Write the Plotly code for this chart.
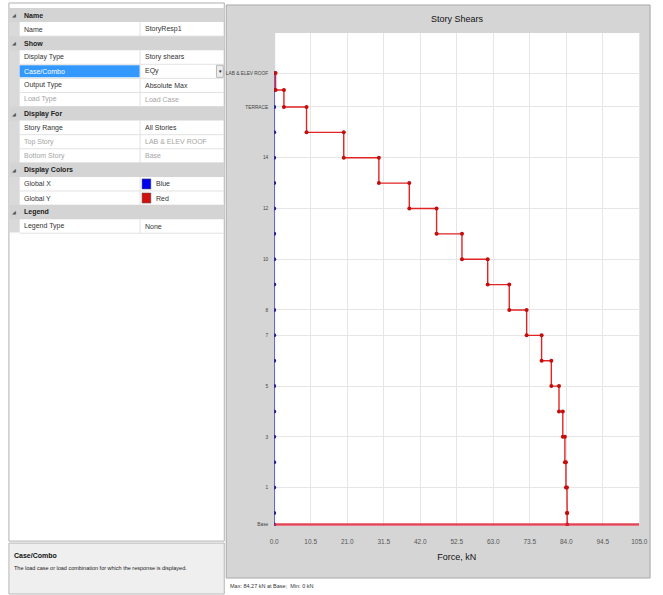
import plotly.graph_objects as go

# ---------------- data ----------------
story_names = ["Base", "PLINTH", "1", "2", "3", "4", "5", "6", "7", "8", "9", "10",
               "11", "12", "13", "14", "15", "TERRACE", "LMR", "LAB & ELEV ROOF"]
story_elev = [0, 1.35, 4.35, 7.35, 10.35, 13.35, 16.35, 19.35, 22.35, 25.35, 28.35,
              31.35, 34.35, 37.35, 40.35, 43.35, 46.35, 49.35, 51.35, 53.35]
labeled_stories = ["Base", "1", "3", "5", "7", "8", "10", "12", "14", "TERRACE", "LAB & ELEV ROOF"]
# shear of the story lying below each level (levels 1..19, bottom to top), kN
shear_x = [0] * 19
shear_y = [84.27, 84.2, 83.9, 83.6, 83.0, 81.9, 79.7, 76.9, 72.6, 67.6, 61.4,
           54.0, 46.7, 38.85, 30.1, 20.0, 9.3, 2.8, 0.4]
x_ticks = [0, 10.5, 21.0, 31.5, 42.0, 52.5, 63.0, 73.5, 84.0, 94.5, 105.0]
x_tick_text = ["0.0", "10.5", "21.0", "31.5", "42.0", "52.5", "63.0", "73.5", "84.0", "94.5", "105.0"]

grid_rows = [
    ("cat", "Name", ""),
    ("row", "Name", "StoryResp1"),
    ("cat", "Show", ""),
    ("row", "Display Type", "Story shears"),
    ("sel", "Case/Combo", "EQy"),
    ("row", "Output Type", "Absolute Max"),
    ("dim", "Load Type", "Load Case"),
    ("cat", "Display For", ""),
    ("row", "Story Range", "All Stories"),
    ("dim", "Top Story", "LAB & ELEV ROOF"),
    ("dim", "Bottom Story", "Base"),
    ("cat", "Display Colors", ""),
    ("blue", "Global X", "Blue"),
    ("red", "Global Y", "Red"),
    ("cat", "Legend", ""),
    ("row", "Legend Type", "None"),
]

W, H = 663, 595
def px(x): return x / W
def py(y): return 1 - y / H

FONT = "Liberation Sans"

fig = go.Figure()

# blue (Global X) trace
fig.add_trace(go.Scatter(
    x=[0] + shear_x, y=story_elev, mode="lines+markers",
    line=dict(color="#2a2ae0", width=1.2),
    marker=dict(color="#1c1c8a", size=4), showlegend=False, hoverinfo="skip"))

# red (Global Y) step trace
sx, sy = [], []
for i in range(len(shear_y) - 1, -1, -1):
    sx += [shear_y[i], shear_y[i]]
    sy += [story_elev[i + 1], story_elev[i]]
fig.add_trace(go.Scatter(
    x=sx, y=sy, mode="lines+markers",
    line=dict(color="#e02424", width=1.4),
    marker=dict(color="#c40d0d", size=4), showlegend=False, hoverinfo="skip"))

shapes = []
annotations = []

# ---- right panel background ----
shapes.append(dict(type="rect", xref="paper", yref="paper", layer="below",
                   x0=px(226), x1=px(659), y0=py(579), y1=py(5),
                   fillcolor="#d5d5d5", line=dict(color="#a8a8a8", width=1)))
shapes.append(dict(type="rect", xref="paper", yref="paper", layer="below",
                   x0=px(276), x1=px(648), y0=py(527), y1=py(33),
                   fillcolor="#ffffff", line=dict(width=0)))
# base red line
shapes.append(dict(type="line", xref="x", yref="y", x0=0, x1=105, y0=0, y1=0,
                   line=dict(color="rgba(222,40,60,0.85)", width=2.5)))

# ---- left panel ----
shapes.append(dict(type="rect", xref="paper", yref="paper", layer="below",
                   x0=px(4), x1=px(224), y0=py(542), y1=py(3),
                   fillcolor="#ffffff", line=dict(color="#b0b0b0", width=1)))
shapes.append(dict(type="rect", xref="paper", yref="paper", layer="below",
                   x0=px(4), x1=px(15), y0=py(233), y1=py(8),
                   fillcolor="#d9d9d9", line=dict(width=0)))
row_h = 14.1
top0 = 8
for i, (kind, label, value) in enumerate(grid_rows):
    t = top0 + i * row_h
    b = t + row_h
    c = (t + b) / 2
    if kind == "cat":
        shapes.append(dict(type="rect", xref="paper", yref="paper", layer="below",
                           x0=px(4), x1=px(224), y0=py(b), y1=py(t),
                           fillcolor="#d4d4d4", line=dict(width=0)))
        annotations.append(dict(x=px(9.5), y=py(c), xref="paper", yref="paper",
                                text="◢", showarrow=False, xanchor="center", yanchor="middle",
                                font=dict(size=5, color="#555555", family=FONT)))
        annotations.append(dict(x=px(17), y=py(c), xref="paper", yref="paper",
                                text="<b>" + label + "</b>", showarrow=False,
                                xanchor="left", yanchor="middle",
                                font=dict(size=7, color="#222222", family=FONT)))
        continue
    # separators
    shapes.append(dict(type="line", xref="paper", yref="paper", layer="below",
                       x0=px(15), x1=px(224), y0=py(b), y1=py(b),
                       line=dict(color="#e2e2e2", width=1)))
    shapes.append(dict(type="line", xref="paper", yref="paper", layer="below",
                       x0=px(138), x1=px(138), y0=py(b), y1=py(t),
                       line=dict(color="#e2e2e2", width=1)))
    lab_color = "#333333"
    val_color = "#333333"
    if kind == "sel":
        shapes.append(dict(type="rect", xref="paper", yref="paper", layer="below",
                           x0=px(15), x1=px(137.5), y0=py(b - 1), y1=py(t + 1),
                           fillcolor="#3399ff", line=dict(width=0)))
        lab_color = "#ffffff"
        shapes.append(dict(type="rect", xref="paper", yref="paper", layer="below",
                           x0=px(216), x1=px(223), y0=py(b - 1), y1=py(t + 1),
                           fillcolor="#ececec", line=dict(color="#b8b8b8", width=1)))
        annotations.append(dict(x=px(219.5), y=py(c), xref="paper", yref="paper",
                                text="▼", showarrow=False, xanchor="center", yanchor="middle",
                                font=dict(size=4.5, color="#222222", family=FONT)))
    if kind == "dim":
        lab_color = "#a5a5a5"
        val_color = "#a5a5a5"
    vx = 141
    if kind in ("blue", "red"):
        sw = "#0000f0" if kind == "blue" else "#d01010"
        shapes.append(dict(type="rect", xref="paper", yref="paper", layer="below",
                           x0=px(140), x1=px(149), y0=py(b - 2), y1=py(t + 2),
                           fillcolor=sw, line=dict(color="#555555", width=0.5)))
        vx = 152
    annotations.append(dict(x=px(17), y=py(c), xref="paper", yref="paper",
                            text=label, showarrow=False, xanchor="left", yanchor="middle",
                            font=dict(size=7, color=lab_color, family=FONT)))
    annotations.append(dict(x=px(vx), y=py(c), xref="paper", yref="paper",
                            text=value, showarrow=False, xanchor="left", yanchor="middle",
                            font=dict(size=7, color=val_color, family=FONT)))

# description box
shapes.append(dict(type="rect", xref="paper", yref="paper", layer="below",
                   x0=px(4), x1=px(224), y0=py(595), y1=py(544),
                   fillcolor="#efefef", line=dict(color="#b8b8b8", width=1)))
annotations.append(dict(x=px(7), y=py(556), xref="paper", yref="paper",
                        text="<b>Case/Combo</b>", showarrow=False, xanchor="left", yanchor="middle",
                        font=dict(size=7, color="#111111", family=FONT)))
annotations.append(dict(x=px(7), y=py(569), xref="paper", yref="paper",
                        text="The load case or load combination for which the response is displayed.",
                        showarrow=False, xanchor="left", yanchor="middle",
                        font=dict(size=5.5, color="#222222", family=FONT)))

# title and status
annotations.append(dict(x=px(462), y=py(19), xref="paper", yref="paper",
                        text="Story Shears", showarrow=False, xanchor="center", yanchor="middle",
                        font=dict(size=9, color="#111111", family=FONT)))
annotations.append(dict(x=px(228), y=py(587), xref="paper", yref="paper",
                        text="Max: 84.27 kN at Base;  Min: 0 kN",
                        showarrow=False, xanchor="left", yanchor="middle",
                        font=dict(size=5.5, color="#333333", family=FONT)))

tick_vals_y = [story_elev[story_names.index(n)] for n in labeled_stories]

fig.update_layout(
    width=W, height=H,
    margin=dict(l=0, r=0, t=0, b=0),
    paper_bgcolor="#ffffff",
    plot_bgcolor="rgba(0,0,0,0)",
    shapes=shapes,
    annotations=annotations,
    showlegend=False,
    xaxis=dict(domain=[px(275), px(648)], range=[0, 105], tickvals=x_ticks, ticktext=x_tick_text,
               showgrid=True, gridcolor="#e6e6e6", gridwidth=1, zeroline=False,
               showline=False, ticks="outside", ticklen=9, tickcolor="rgba(0,0,0,0)",
               tickfont=dict(size=6.5, color="#555555", family=FONT),
               title=dict(text="Force, kN", font=dict(size=9, color="#111111", family=FONT), standoff=9)),
    yaxis=dict(domain=[py(527), py(33)], range=[-0.2, 58.1], tickvals=tick_vals_y,
               ticktext=labeled_stories, showgrid=True, gridcolor="#e6e6e6", gridwidth=1,
               zeroline=False, showline=False, ticks="outside", ticklen=4,
               tickcolor="rgba(0,0,0,0)",
               tickfont=dict(size=4.8, color="#444444", family=FONT)),
)

fig.write_html("out.html", config={"displayModeBar": False},
               post_script="document.body.style.margin='0';document.body.style.overflow='hidden';")
